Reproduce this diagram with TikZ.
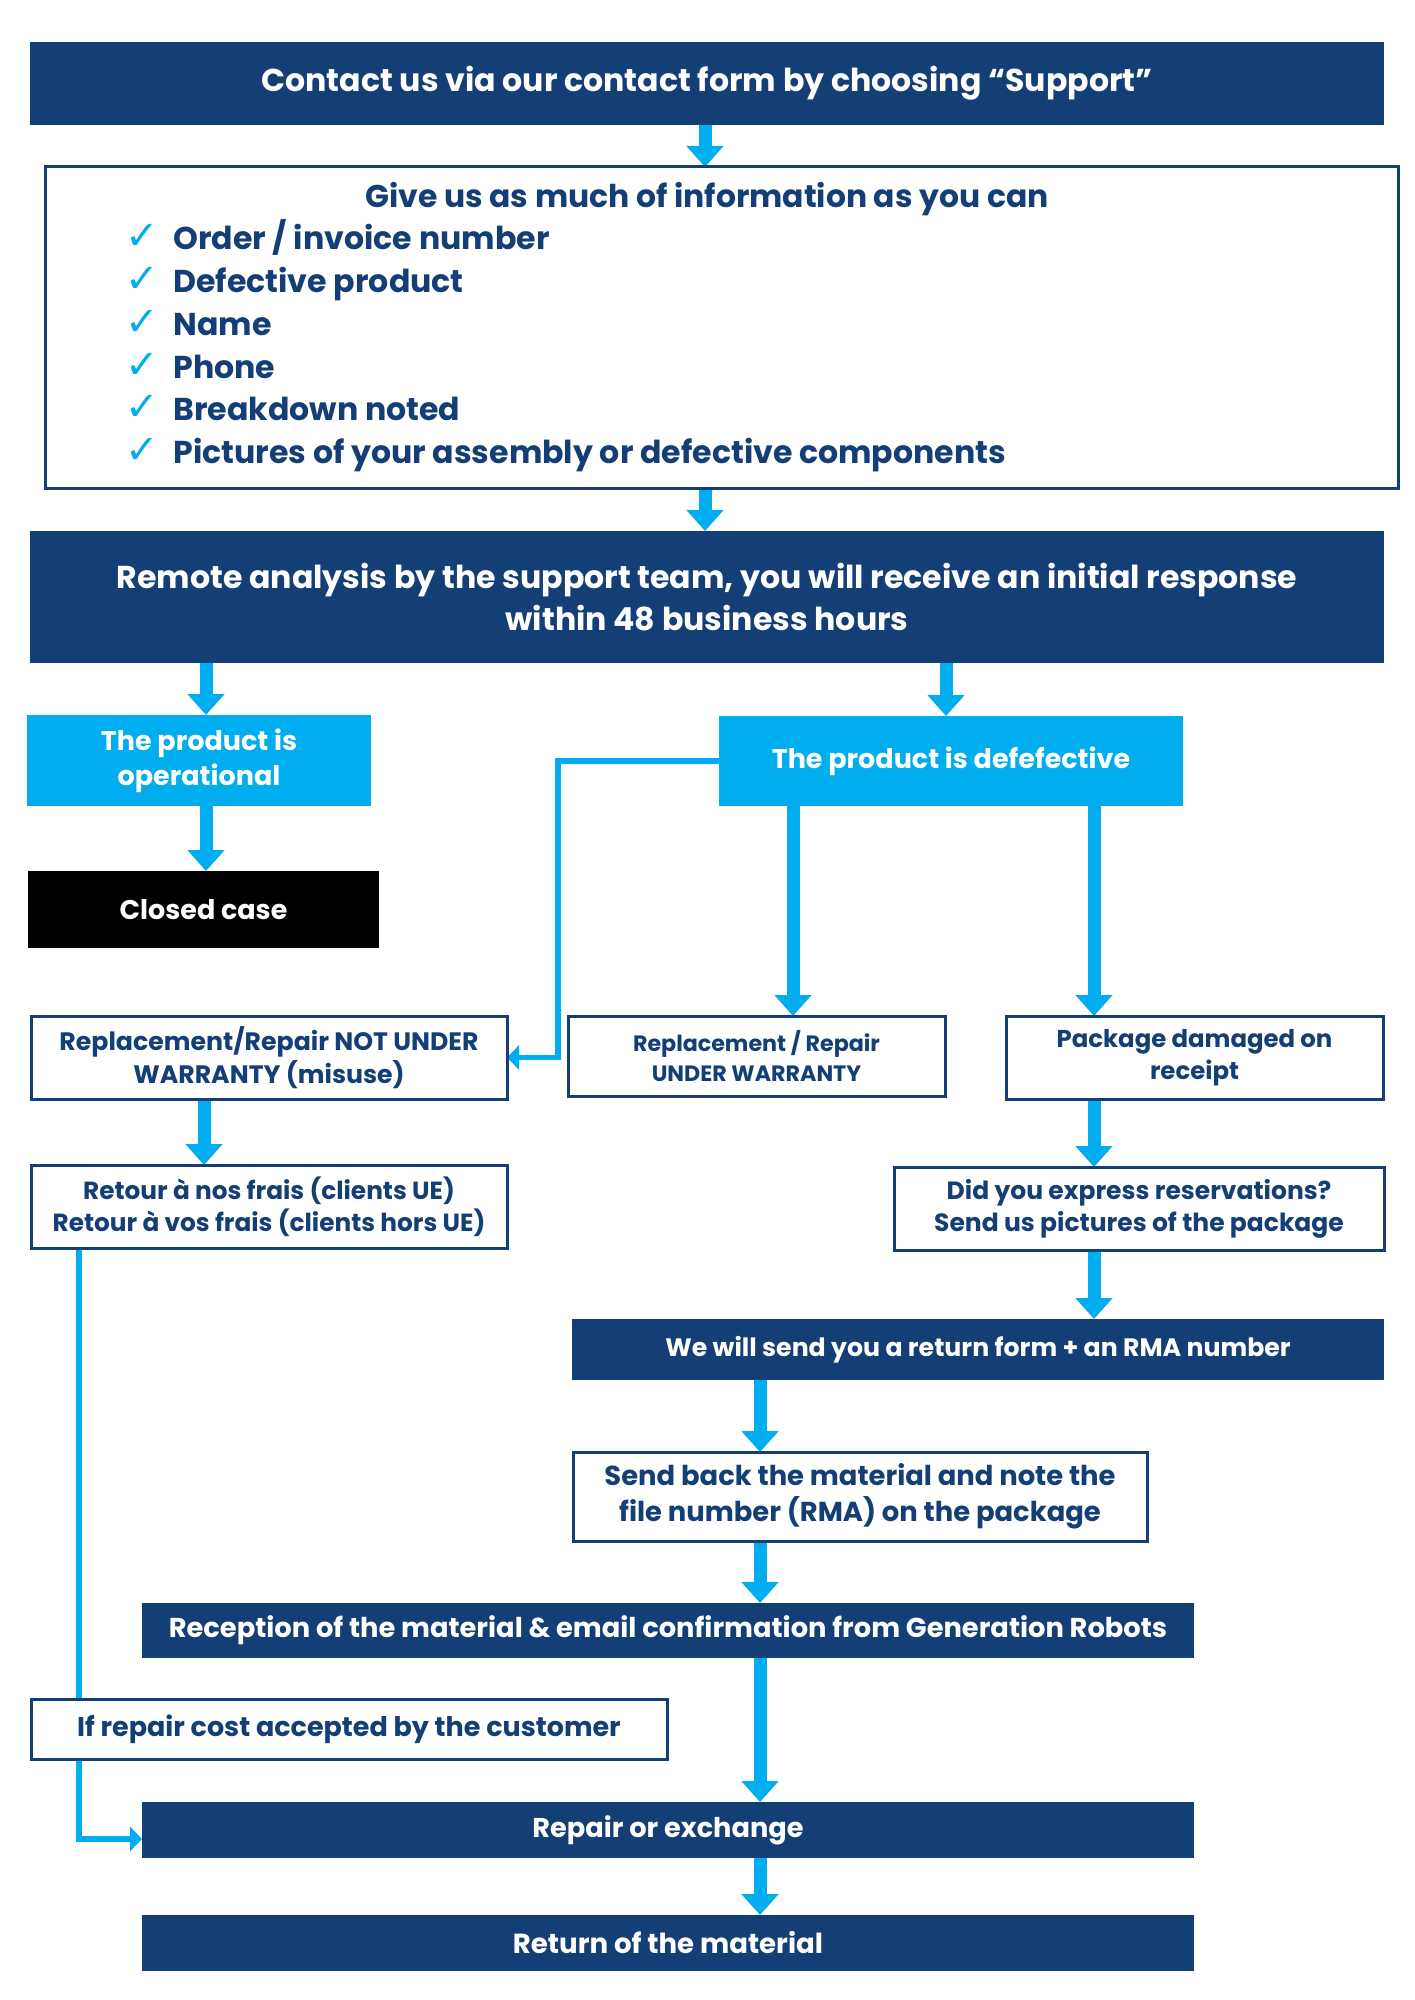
\documentclass[tikz,border=0pt]{standalone}
\usepackage{fontspec}
\setmainfont{Poppins}
\newfontfamily\checkfont{DejaVu Sans}
\usetikzlibrary{arrows.meta}
\definecolor{navy}{RGB}{20,63,118}
\definecolor{cyanb}{RGB}{0,173,238}
\pgfdeclarelayer{bg}
\pgfsetlayers{bg,main}
\newcommand\fs[2]{\fontsize{#1}{#2}\selectfont}
\newcommand\bx[7]{\node[#6, minimum width={(#4-#2)*0.5pt}, minimum height={(#5-#3)*0.5pt}] (#1) at ({(#2+#4)/2},{(#3+#5)/2}) {#7};}
\tikzset{
  basebox/.style={inner sep=0pt, outer sep=0pt, align=center, font=\bfseries},
  navybox/.style={basebox, fill=navy, text=white},
  cyanbox/.style={basebox, fill=cyanb, text=white},
  blackbox/.style={basebox, fill=black, text=white},
  outbox/.style={basebox, draw=navy, line width=1.5pt, fill=white, text=navy},
  bigarrow/.style={draw=cyanb, line width=6.5pt, -{Triangle[width=18pt,length=10.5pt]}},
  thinarrow/.style={draw=cyanb, line width=2.75pt, -{Triangle[width=12pt,length=6pt]}},
  listtext/.style={anchor=base west, inner sep=0pt, text=navy, font=\bfseries\fs{15.8}{19}},
  checkmark/.style={anchor=base, inner sep=0pt, text=cyanb, font=\checkfont\fs{20}{22}}
}
\begin{document}
\begin{tikzpicture}[x=0.5pt,y=-0.5pt]
\useasboundingbox (0,0) rectangle (1414,2000);
\bx{top}{30}{42}{1384}{125}{navybox,font=\bfseries\fs{15.8}{21}}{Contact us via our contact form by choosing “Support”}
\bx{info}{45}{167}{1398}{488}{outbox}{}
\node[anchor=base, inner sep=0pt, text=navy, font=\bfseries\fs{15.7}{19}] (title) at (707,208) {Give us as much of information as you can};
\node[checkmark] (k1) at (142,250) {✓};
\node[listtext] (l1) at (173,250) {Order / invoice number};
\node[checkmark] (k2) at (142,293) {✓};
\node[listtext] (l2) at (173,293) {Defective product};
\node[checkmark] (k3) at (142,336) {✓};
\node[listtext] (l3) at (173,336) {Name};
\node[checkmark] (k4) at (142,379) {✓};
\node[listtext] (l4) at (173,379) {Phone};
\node[checkmark] (k5) at (142,421) {✓};
\node[listtext] (l5) at (173,421) {Breakdown noted};
\node[checkmark] (k6) at (142,464) {✓};
\node[listtext] (l6) at (173,464) {Pictures of your assembly or defective components};
\bx{remote}{30}{531}{1384}{663}{navybox,font=\bfseries\fs{15.8}{21}}{Remote analysis by the support team, you will receive an initial response\\within 48 business hours}
\bx{oper}{27}{715}{371}{806}{cyanbox,font=\bfseries\fs{13.5}{17.5}}{The product is\\operational}
\bx{def}{719}{716}{1183}{806}{cyanbox,font=\bfseries\fs{13.5}{17.5}}{The product is defefective}
\bx{closed}{28}{871}{379}{948}{blackbox,font=\bfseries\fs{13.5}{17.5}}{Closed case}
\bx{notunder}{31}{1016}{507}{1099}{outbox,font=\bfseries\fs{12.6}{16.25}}{Replacement/Repair NOT UNDER\\WARRANTY (misuse)}
\bx{under}{568}{1016}{945}{1096}{outbox,font=\bfseries\fs{11.1}{15}}{Replacement / Repair\\UNDER WARRANTY}
\bx{pkg}{1006}{1016}{1383}{1099}{outbox,font=\bfseries\fs{12.2}{16}}{Package damaged on\\receipt}
\bx{retour}{31}{1165}{507}{1248}{outbox,font=\bfseries\fs{12.4}{16}}{Retour à nos frais (clients UE)\\Retour à vos frais (clients hors UE)}
\bx{resv}{894}{1167}{1384}{1250}{outbox,font=\bfseries\fs{12.5}{16}}{Did you express reservations?\\Send us pictures of the package}
\bx{rma}{572}{1319}{1384}{1380}{navybox,font=\bfseries\fs{12.6}{16}}{We will send you a return form + an RMA number}
\bx{send}{573}{1452}{1147}{1541}{outbox,font=\bfseries\fs{13.7}{18}}{Send back the material and note the\\file number (RMA) on the package}
\bx{recep}{142}{1603}{1194}{1658}{navybox,font=\bfseries\fs{13.65}{18}}{Reception of the material \& email confirmation from Generation Robots}
\bx{ifrep}{31}{1699}{667}{1759}{outbox,font=\bfseries\fs{13.5}{16}}{If repair cost accepted by the customer}
\bx{repair}{142}{1802}{1194}{1858}{navybox,font=\bfseries\fs{13.6}{16}}{Repair or exchange}
\bx{ret}{142}{1915}{1194}{1971}{navybox,font=\bfseries\fs{13.8}{16}}{Return of the material}
\coordinate (a1) at (705,0);
\coordinate (a2) at (206,0);
\coordinate (a3) at (946,0);
\coordinate (a4) at (793,0);
\coordinate (a5) at (1094,0);
\coordinate (a6) at (204,0);
\coordinate (a7) at (760,0);
\coordinate (elb) at (558,900);
\coordinate (lc) at (79,1839);
\begin{pgfonlayer}{bg}
\draw[bigarrow] (top.south -| a1) -- (info.north -| a1);
\draw[bigarrow] (info.south -| a1) -- (remote.north -| a1);
\draw[bigarrow] (remote.south -| a2) -- (oper.north -| a2);
\draw[bigarrow] (remote.south -| a3) -- (def.north -| a3);
\draw[bigarrow] (oper.south -| a2) -- (closed.north -| a2);
\draw[bigarrow] (def.south -| a4) -- (under.north -| a4);
\draw[bigarrow] (def.south -| a5) -- (pkg.north -| a5);
\draw[bigarrow] (notunder.south -| a6) -- (retour.north -| a6);
\draw[bigarrow] (pkg.south -| a5) -- (resv.north -| a5);
\draw[bigarrow] (resv.south -| a5) -- (rma.north -| a5);
\draw[bigarrow] (rma.south -| a7) -- (send.north -| a7);
\draw[bigarrow] (send.south -| a7) -- (recep.north -| a7);
\draw[bigarrow] (recep.south -| a7) -- (repair.north -| a7);
\draw[bigarrow] (repair.south -| a7) -- (ret.north -| a7);
\draw[thinarrow] (def.west) -| (elb) |- (notunder.east);
\draw[thinarrow] (retour.south -| lc) -- (lc) -- (repair.west |- lc);
\end{pgfonlayer}
\end{tikzpicture}
\end{document}
